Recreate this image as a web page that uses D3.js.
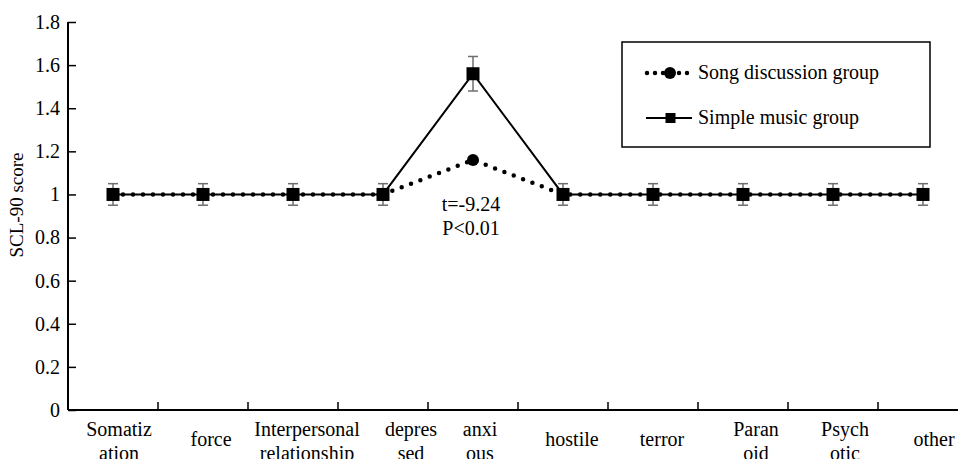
<!DOCTYPE html>
<html>
<head>
<meta charset="utf-8">
<script src="https://cdn.jsdelivr.net/npm/d3@7"></script>
<style>
  body { margin: 0; background: #fff; }
  svg text { font-family: "Liberation Serif", "DejaVu Serif", serif !important; fill: #000; }
</style>
</head>
<body>
<svg id="chart" width="958" height="459"></svg>
<script>
// Categories (label lines)
var categories = ["Somatization", "force", "Interpersonal relationship", "depressed", "anxious",
  "hostile", "terror", "Paranoid", "Psychotic", "other"];
var categoryLines = [["Somatiz", "ation"], ["force"], ["Interpersonal", "relationship"], ["depres", "sed"],
  ["anxi", "ous"], ["hostile"], ["terror"], ["Paran", "oid"], ["Psych", "otic"], ["other"]];

// Series values
var songDiscussion = [1, 1, 1, 1, 1.16, 1, 1, 1, 1, 1];
var simpleMusic = [1, 1, 1, 1, 1.56, 1, 1, 1, 1, 1];
var simpleMusicErr = [0.05, 0.05, 0.05, 0.05, 0.08, 0.05, 0.05, 0.05, 0.05, 0.05];

var yTicks = [0, 0.2, 0.4, 0.6, 0.8, 1, 1.2, 1.4, 1.6, 1.8];
var seriesNames = ["Song discussion group", "Simple music group"];
var annotation = ["t=-9.24", "P<0.01"];

var chart = {};

// Label nudges (layout only)
chart.labelNudge = [6, 8, 14, 28, 7, 9, 9, 13, 12, 11];

chart.draw = () => {
  let svg = d3.select("#chart");
  let margin = {top: 22, left: 68, bottom: 49},
    height = 459;

  let x = d3.scaleBand()
    .domain(categories)
    .range([margin.left, margin.left + 90 * categories.length]);
  let y = d3.scaleLinear()
    .domain([0, 1.8])
    .range([height - margin.bottom, margin.top]);
  let cx = (i) => x(categories[i]) + x.bandwidth() / 2;

  // Y axis
  let yAxis = svg.append("g")
    .attr("transform", "translate(" + margin.left + ",0)")
    .call(d3.axisRight(y).tickValues(yTicks).tickSize(8).tickFormat(d3.format("")));
  yAxis.attr("font-family", null).attr("font-size", null);
  yAxis.select(".domain").attr("d", "M0," + y(1.8) + "V" + y(0)).attr("stroke-width", 2);
  yAxis.selectAll(".tick line").attr("stroke-width", 1.5);
  yAxis.selectAll(".tick text")
    .attr("x", -8)
    .attr("text-anchor", "end")
    .style("font-size", "20px");

  // X axis line and ticks between categories
  svg.append("line")
    .attr("x1", margin.left).attr("x2", 958)
    .attr("y1", y(0)).attr("y2", y(0))
    .attr("stroke", "#000").attr("stroke-width", 2);
  svg.selectAll(".xtick")
    .data(categories.slice(1))
    .enter()
    .append("line")
    .attr("class", "xtick")
    .attr("x1", (d) => x(d)).attr("x2", (d) => x(d))
    .attr("y1", y(0)).attr("y2", y(0) - 8)
    .attr("stroke", "#000").attr("stroke-width", 1.5);

  // X labels
  let xl = svg.selectAll(".xlabel")
    .data(categoryLines)
    .enter()
    .append("text")
    .attr("class", "xlabel")
    .attr("text-anchor", "middle")
    .style("font-size", "20px")
    .attr("transform", (d, i) => "translate(" + (cx(i) + chart.labelNudge[i]) + "," + (d.length > 1 ? 436 : 446) + ")");
  xl.selectAll("tspan")
    .data((d) => d)
    .enter()
    .append("tspan")
    .attr("x", 0)
    .attr("y", (d, j) => j * 24)
    .text((d) => d);

  // Y title
  svg.append("text")
    .attr("transform", "translate(23,205) rotate(-90)")
    .attr("text-anchor", "middle")
    .style("font-size", "19px")
    .text("SCL-90 score");

  // Lines
  let line = d3.line()
    .x((d, i) => cx(i))
    .y((d) => y(d));
  svg.append("path")
    .datum(simpleMusic)
    .attr("d", line)
    .attr("fill", "none")
    .attr("stroke", "#000")
    .attr("stroke-width", 2);
  svg.append("path")
    .datum(songDiscussion)
    .attr("d", line)
    .attr("fill", "none")
    .attr("stroke", "#000")
    .attr("stroke-width", 4.5)
    .attr("stroke-linecap", "round")
    .attr("stroke-dasharray", "0,10");

  // Error bars
  let eb = svg.selectAll(".err")
    .data(simpleMusic)
    .enter()
    .append("g")
    .attr("class", "err")
    .attr("stroke", "#6e6e6e")
    .attr("stroke-width", 1.5);
  eb.append("line")
    .attr("x1", (d, i) => cx(i)).attr("x2", (d, i) => cx(i))
    .attr("y1", (d, i) => y(d + simpleMusicErr[i])).attr("y2", (d, i) => y(d - simpleMusicErr[i]));
  eb.append("line")
    .attr("x1", (d, i) => cx(i) - 5).attr("x2", (d, i) => cx(i) + 5)
    .attr("y1", (d, i) => y(d + simpleMusicErr[i])).attr("y2", (d, i) => y(d + simpleMusicErr[i]));
  eb.append("line")
    .attr("x1", (d, i) => cx(i) - 5).attr("x2", (d, i) => cx(i) + 5)
    .attr("y1", (d, i) => y(d - simpleMusicErr[i])).attr("y2", (d, i) => y(d - simpleMusicErr[i]));

  // Markers
  svg.selectAll(".dot")
    .data(songDiscussion)
    .enter()
    .append("circle")
    .attr("class", "dot")
    .attr("cx", (d, i) => cx(i))
    .attr("cy", (d) => y(d))
    .attr("r", 6)
    .attr("fill", "#000");
  svg.selectAll(".sq")
    .data(simpleMusic)
    .enter()
    .append("rect")
    .attr("class", "sq")
    .attr("x", (d, i) => cx(i) - 6.5)
    .attr("y", (d) => y(d) - 6.5)
    .attr("width", 13).attr("height", 13)
    .attr("fill", "#000");

  // Annotation
  svg.selectAll(".ann")
    .data(annotation)
    .enter()
    .append("text")
    .attr("class", "ann")
    .attr("x", cx(4) - 2)
    .attr("y", (d, i) => 211 + i * 24)
    .attr("text-anchor", "middle")
    .style("font-size", "20px")
    .text((d) => d);

  // Legend
  let lg = svg.append("g").attr("transform", "translate(622,42)");
  lg.append("rect")
    .attr("width", 308).attr("height", 105)
    .attr("fill", "#fff").attr("stroke", "#000").attr("stroke-width", 1.5);
  let items = lg.selectAll(".item")
    .data(seriesNames)
    .enter()
    .append("g")
    .attr("class", "item")
    .attr("transform", (d, i) => "translate(0," + (31 + i * 45) + ")");
  items.append("line")
    .attr("x1", (d, i) => i == 0 ? 25 : 24).attr("x2", 70)
    .attr("stroke", "#000")
    .attr("stroke-width", (d, i) => i == 0 ? 4.5 : 2)
    .attr("stroke-linecap", (d, i) => i == 0 ? "round" : "butt")
    .attr("stroke-dasharray", (d, i) => i == 0 ? "0,8" : null);
  items.filter((d, i) => i == 0).append("circle")
    .attr("cx", 48).attr("r", 6).attr("fill", "#000");
  items.filter((d, i) => i == 1).append("rect")
    .attr("x", 43.5).attr("y", -5).attr("width", 10).attr("height", 10).attr("fill", "#000");
  items.append("text")
    .attr("x", 76)
    .attr("dy", "0.32em")
    .style("font-size", "20px")
    .text((d) => d);
};

chart.draw();
</script>
</body>
</html>
